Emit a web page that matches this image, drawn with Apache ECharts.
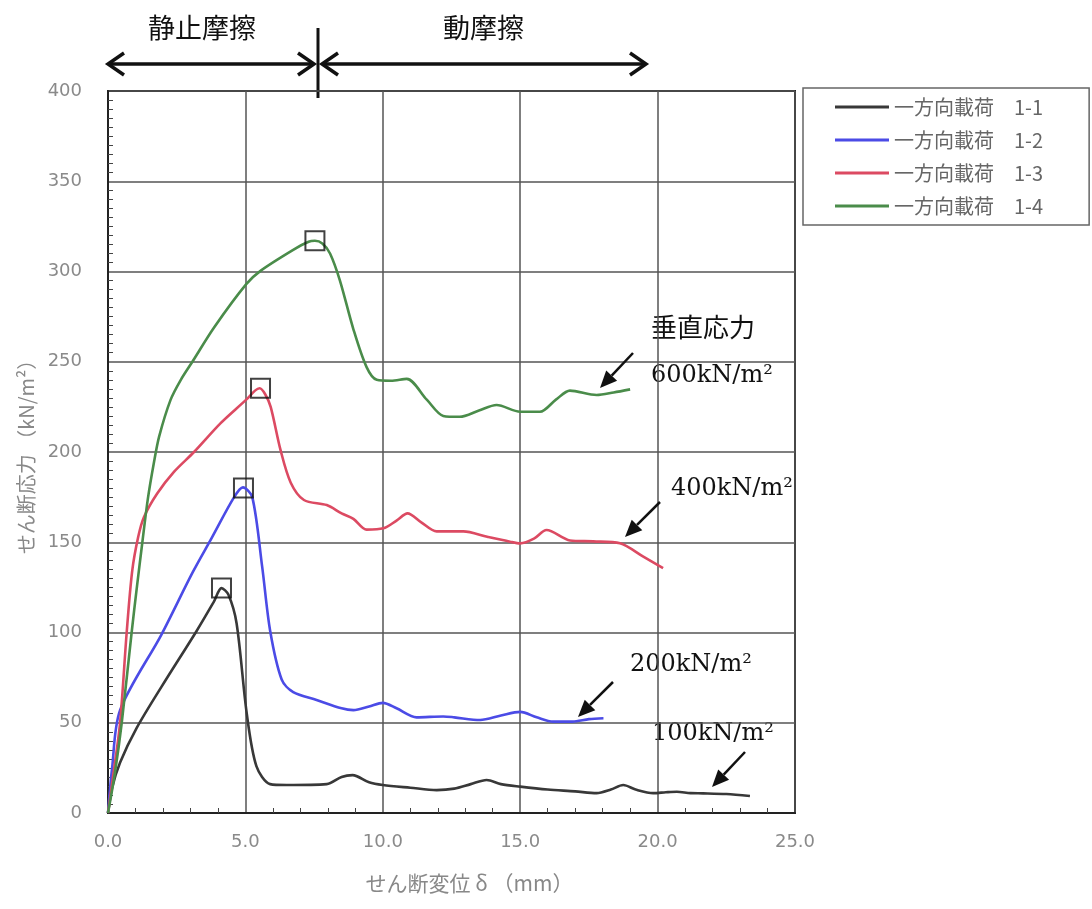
<!DOCTYPE html>
<html><head><meta charset="utf-8">
<script src="https://cdn.jsdelivr.net/npm/echarts@6/dist/echarts.min.js"></script>
<style>html,body{margin:0;padding:0;background:#fff}#c{width:1092px;height:909px}</style>
</head><body><div id="c"></div>
<script>
const seriesNames = ['一方向載荷　1-1','一方向載荷　1-2','一方向載荷　1-3','一方向載荷　1-4'];
const xTicks = [0, 5, 10, 15, 20, 25];
const yTicks = [0, 50, 100, 150, 200, 250, 300, 350, 400];

const s1_1 = [[0,0],[0.15,14],[0.44,28],[1.04,47],[1.95,70],[3.23,101],[3.85,117],[4.13,124.6],[4.38,121],[4.68,105],[5.05,55],[5.4,26],[5.9,16],[6.5,15.5],[7.96,16],[8.5,20],[8.9,21],[9.5,17],[10.0,15.5],[11.0,14],[11.96,12.7],[12.6,13.5],[13.2,16],[13.78,18.3],[14.3,16],[15.0,14.6],[16.0,13],[17.0,12],[17.78,11],[18.3,13],[18.75,15.5],[19.2,13],[19.84,11],[20.3,11.5],[20.7,11.8],[21.2,11],[21.66,10.9],[22.5,10.5],[23.36,9.4]];
const s1_2 = [[0,0],[0.15,25],[0.44,57],[1.95,99],[3.07,133],[3.76,152],[4.59,175],[4.91,180.4],[5.25,175],[5.61,136.5],[5.9,101],[6.32,74],[6.74,67],[7.59,62.6],[8.5,58],[8.93,57],[9.5,59],[10.0,61],[10.5,58],[11.23,53],[12.2,53.5],[12.6,53],[13.54,51.5],[14.3,54],[15.0,56],[15.6,53],[16.2,50.6],[16.9,50.6],[17.5,52],[18.03,52.5]];
const s1_3 = [[0,0],[0.2,22],[0.44,50],[0.68,100],[0.88,134],[1.1,153],[1.31,164],[1.79,177],[2.4,189],[3.13,200],[4.1,216],[5.03,229],[5.35,234],[5.52,235.3],[5.72,232],[5.92,225],[6.28,201],[6.65,183],[7.13,173.4],[7.96,170.6],[8.5,166],[8.93,163],[9.41,157],[10.02,157.7],[10.5,162],[10.9,166],[11.4,161],[11.96,156],[12.93,156],[13.8,153],[14.63,150.3],[15.0,149.4],[15.5,152],[15.96,156.8],[16.81,151],[17.66,150.5],[18.63,149.4],[19.48,142],[20.2,135.6]];
const s1_4 = [[0,0],[0.25,22],[0.5,50],[0.86,100],[1.05,125],[1.25,150],[1.45,174],[1.67,194],[1.86,208.5],[2.28,229],[2.65,240],[3.07,250],[3.86,269],[5.03,293],[5.56,300.5],[6.74,312],[7.3,316.5],[7.53,317],[7.8,315.5],[8.08,310],[8.44,295],[8.93,268],[9.41,247],[9.78,240],[10.3,239.5],[10.87,240.5],[11.6,229],[12.2,220],[12.8,219.5],[13.5,223],[14.14,226],[15.0,222.3],[15.72,222.3],[16.3,229],[16.81,234],[17.78,231.6],[18.4,233],[19.0,234.7]];
const peaks = [[4.13,124.6],[4.93,180],[5.55,235.3],[7.53,317]];

const colors = ['#383838','#4b4be6','#dc4a62','#4a8c4a'];

function arrow(x1,y1,x2,y2){
  const a = Math.atan2(y2-y1, x2-x1), L = 17, W = 7.5;
  const bx = x2 - L*Math.cos(a), by = y2 - L*Math.sin(a);
  const px = -Math.sin(a)*W, py = Math.cos(a)*W;
  return [
    {type:'line', shape:{x1:x1,y1:y1,x2:bx,y2:by}, style:{stroke:'#111',lineWidth:2.5}, z:100},
    {type:'polygon', shape:{points:[[x2,y2],[bx+px,by+py],[bx-px,by-py]]}, style:{fill:'#111'}, z:100}
  ];
}
function chevron(x,y,dir){
  return {type:'polyline', shape:{points:[[x+dir*16,y-11],[x,y],[x+dir*16,y+11]]}, style:{stroke:'#111',lineWidth:3.5,fill:null}, z:100};
}
const serif = 'DejaVu Serif';
const cjk = '"Noto Sans CJK JP"';
const graphics = [
  {type:'text', left:148, top:14, style:{text:'静止摩擦', font:'400 27px '+cjk, fill:'#111'}},
  {type:'text', left:443, top:14, style:{text:'動摩擦', font:'400 27px '+cjk, fill:'#111'}},
  {type:'line', shape:{x1:108,y1:64,x2:314,y2:64}, style:{stroke:'#111',lineWidth:3.5}},
  chevron(108,64,1), chevron(314,64,-1),
  {type:'line', shape:{x1:322,y1:64,x2:646,y2:64}, style:{stroke:'#111',lineWidth:3.5}},
  chevron(322,64,1), chevron(646,64,-1),
  {type:'line', shape:{x1:318,y1:28,x2:318,y2:98}, style:{stroke:'#111',lineWidth:3}},
  {type:'text', left:651, top:314, style:{text:'垂直応力', font:'400 26px '+cjk, fill:'#111'}},
  {type:'text', left:651, top:364, style:{text:'600kN/m²', font:'400 24px '+serif, fill:'#111'}},
  {type:'text', left:671, top:477, style:{text:'400kN/m²', font:'400 24px '+serif, fill:'#111'}},
  {type:'text', left:630, top:653, style:{text:'200kN/m²', font:'400 24px '+serif, fill:'#111'}},
  {type:'text', left:652, top:722, style:{text:'100kN/m²', font:'400 24px '+serif, fill:'#111'}},
  ...arrow(633,353,600,388),
  ...arrow(660,502,625,537),
  ...arrow(613,682,578,717),
  ...arrow(745,752,712,787)
];

const chart = echarts.init(document.getElementById('c'));
const lineSeries = [s1_1,s1_2,s1_3,s1_4].map((d,i)=>({
  name: seriesNames[i], type:'line', data:d, symbol:'none', smooth:0.3,
  lineStyle:{width:2.6,color:colors[i]}, itemStyle:{color:colors[i]}, z:3
}));
chart.setOption({
  animation:false,
  backgroundColor:'#fff',
  grid:{left:108, top:91, right:297, bottom:96, show:true, borderColor:'#222', borderWidth:2},
  legend:{
    data: seriesNames, orient:'vertical', left:803, top:88,
    icon:'rect', padding:[9,46,9,32], itemGap:13, itemWidth:54, itemHeight:3,
    borderColor:'#666', borderWidth:1.5,
    textStyle:{fontSize:20, color:'#666', fontFamily:cjk}
  },
  xAxis:{
    type:'value', min:xTicks[0], max:xTicks[xTicks.length-1], interval:5,
    name:'せん断変位 δ （mm）', nameLocation:'middle', nameGap:60,
    nameTextStyle:{fontSize:21, color:'#888', fontFamily:cjk, padding:[0,0,0,36]},
    axisLine:{show:true, lineStyle:{color:'#222', width:2}},
    axisTick:{show:false, inside:true},
    minorTick:{show:true, splitNumber:5, length:5, lineStyle:{color:'#444'}},
    axisLabel:{formatter:v=>v.toFixed(1), fontSize:18, color:'#8a8a8a', fontFamily:'DejaVu Sans', margin:20},
    splitLine:{show:true, lineStyle:{color:'#555', width:1.5}}
  },
  yAxis:{
    type:'value', min:yTicks[0], max:yTicks[yTicks.length-1], interval:50,
    name:'せん断応力 （kN/m²）', nameLocation:'middle', nameGap:72, nameRotate:90,
    nameTextStyle:{fontSize:20, color:'#888', fontFamily:cjk},
    axisLine:{show:true, lineStyle:{color:'#222', width:2}},
    axisTick:{show:false, inside:true},
    minorTick:{show:true, splitNumber:10, length:5, lineStyle:{color:'#444'}},
    axisLabel:{fontSize:18, color:'#8a8a8a', fontFamily:'DejaVu Sans', margin:26},
    splitLine:{show:true, lineStyle:{color:'#555', width:1.5}}
  },
  series:[...lineSeries, {
    name:'peak', type:'scatter', data:peaks, symbol:'rect', symbolSize:19,
    itemStyle:{color:'rgba(0,0,0,0)', borderColor:'#111', borderWidth:2}, z:5, silent:true
  }],
  graphic: graphics
});
</script></body></html>
